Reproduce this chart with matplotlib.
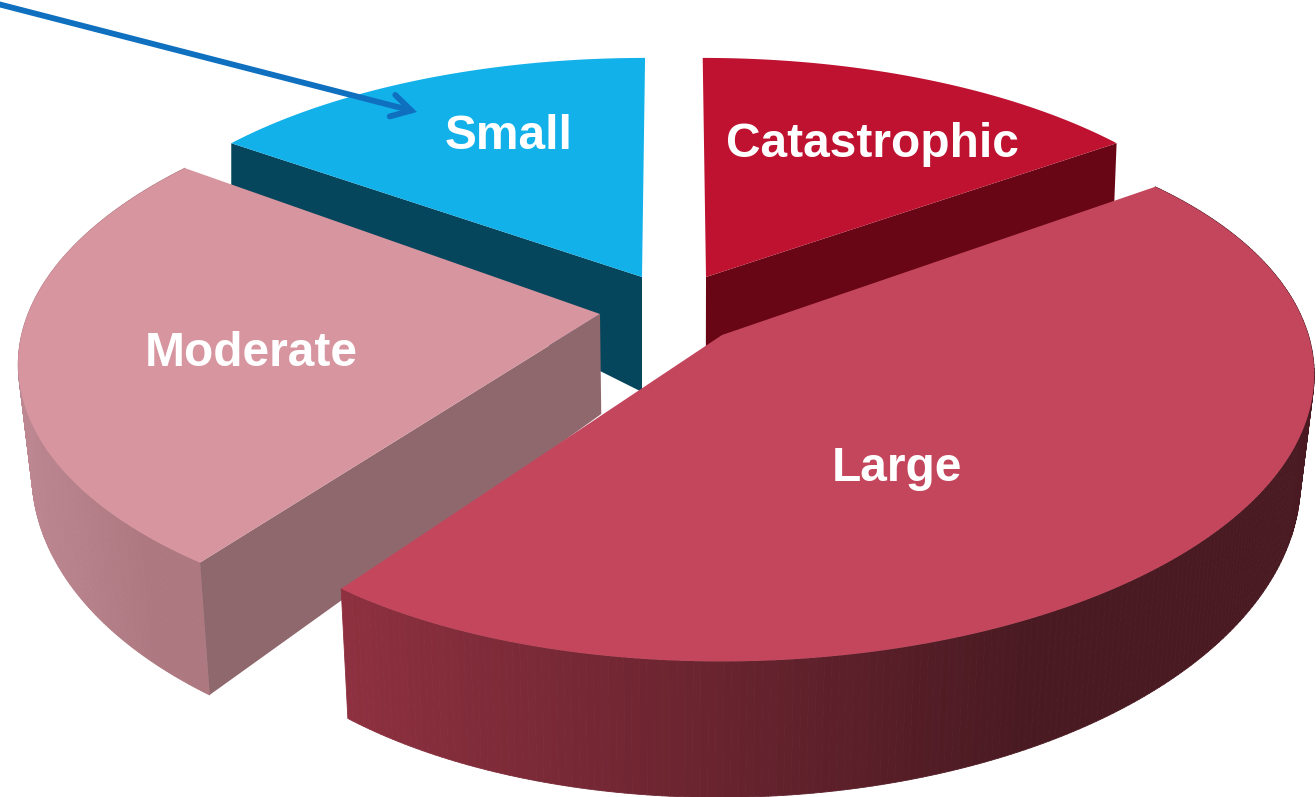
import numpy as np
import matplotlib
matplotlib.use("Agg")
import matplotlib.pyplot as plt
from matplotlib.collections import PolyCollection
from matplotlib.colors import to_rgb

categories = ["Catastrophic", "Large", "Moderate", "Small"]
values = [15, 45, 25, 15]

# per slice projection: centre x, centre y, A, B, k, shear, taper
PROJ = {
    "Catastrophic": (706, 277, 540, 241, 0.10, 0.015, 0.0),
    "Large": (705, 345, 608, 292, 0.08, 0.02, 0.035),
    "Moderate": (600, 314, 572, 270, 0.15, -0.07, 0.0),
    "Small": (642, 277, 540, 241, 0.10, -0.014, 0.0),
}
# visible inner corner of the slice where it differs from the arc centre
APEX = {"Large": (722, 335)}
# extrusion: depth h0 + h1 * v, and pull of the lower edge toward VP_X
DEPTH = {
    "Catastrophic": (115, 97, 0.005),
    "Large": (103, 33, 0.021),
    "Moderate": (100, 40, 0.021),
    "Small": (115, 122, 0.0),
}
TOP = {"Catastrophic": "#BE1230", "Large": "#C4465C", "Moderate": "#D7959F", "Small": "#13B1EA"}
SIDE = {"Catastrophic": "#690616", "Moderate": "#8F686E", "Small": "#05465C"}
RIM = {"Large": ("#8E303F", "#4A1A22"), "Moderate": ("#BC8791", "#AE7880")}
LABELS = {"Catastrophic": (872, 144), "Large": (897, 468), "Moderate": (251, 353), "Small": (509, 136)}
VP_X = 660


def project(name, ang, mid):
    x0, y0, A, B, k, c, e = PROJ[name]
    u, v = np.sin(ang), -np.cos(ang)
    half = (ang.max() - ang.min()) / 2
    r = 1 - e * (np.abs(ang - mid) / half) ** 4
    w = 1 - k * v
    dy = B * v / w * r
    return x0 + A * u / w * r + c * dy, y0 + dy, v


def lower(name, x, y, v):
    h0, h1, s = DEPTH[name]
    return x + (VP_X - x) * s, y + h0 + h1 * v


fig = plt.figure(figsize=(13.16, 7.97), dpi=100)
ax = fig.add_axes([0, 0, 1, 1])
ax.set_xlim(0, 1316)
ax.set_ylim(797, 0)
ax.axis("off")

cum = np.cumsum([0] + values) / sum(values) * 2 * np.pi
span = {c: (cum[i], cum[i + 1]) for i, c in enumerate(categories)}

for name in ["Small", "Catastrophic", "Moderate", "Large"]:
    a0, a1 = span[name]
    th = np.linspace(a0, a1, 241)
    x, y, v = project(name, th, (a0 + a1) / 2)
    xb, yb = lower(name, x, y, v)
    x0, y0 = APEX.get(name, PROJ[name][:2])
    tipb = lower(name, np.array([x0]), np.array([y0]), np.array([0.0]))
    if name in RIM:
        c0, c1 = map(np.array, map(to_rgb, RIM[name]))
        quads, cols = [], []
        lo, hi = x.min(), x.max()
        for i in range(len(th) - 1):
            quads.append([(x[i], y[i]), (x[i + 1], y[i + 1]), (xb[i + 1], yb[i + 1]), (xb[i], yb[i])])
            t = min(((x[i] + x[i + 1]) / 2 - lo) / (hi - lo) / 0.7, 1)
            cols.append(c0 * (1 - t) + c1 * t)
        ax.add_collection(PolyCollection(quads, facecolors=cols, edgecolors=cols, linewidths=0.6))
    if name in SIDE:
        # cut edge facing the viewer
        idx = {"Small": 0, "Catastrophic": -1, "Moderate": 0}[name]
        ax.fill([x0, x[idx], xb[idx], tipb[0][0]], [y0, y[idx], yb[idx], tipb[1][0]],
                color=SIDE[name], lw=0)
    ax.fill(np.r_[x0, x], np.r_[y0, y], color=TOP[name], lw=0)
    lx, ly = LABELS[name]
    ax.text(lx, ly, name, color="white", fontsize=34.5, fontweight="bold",
            family="Liberation Sans", ha="center", va="center")

ax.annotate("", xy=(417, 112), xytext=(-2, 4),
            arrowprops=dict(arrowstyle="->,head_length=1.4,head_width=0.8", color="#0F70C0", lw=4.2,
                            shrinkA=0, shrinkB=0, capstyle="round", joinstyle="miter"))
fig.savefig("out.png", dpi=100, facecolor="white")
